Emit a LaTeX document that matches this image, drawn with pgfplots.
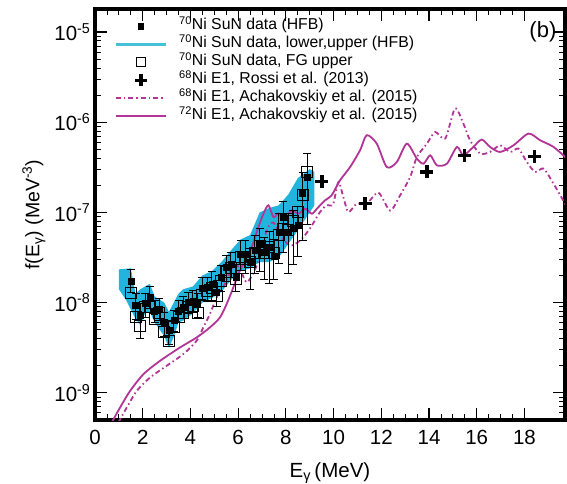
\documentclass[border=0pt]{standalone}
\usepackage{pgfplots}
\usepackage{pgfplotstable}
\pgfplotsset{compat=1.18}
\usepackage{fontspec}
\setmainfont{Liberation Sans}
\definecolor{nimag}{RGB}{178,52,150}
\definecolor{band}{RGB}{35,180,222}
\definecolor{bandline}{RGB}{70,192,214}

% 70Ni SuN data (HFB): E, f, error plus, error minus
\pgfplotstableread{
E f ep em
1.50 1.74e-8 6.09e-9 4.35e-9
1.70 9.33e-9 3.27e-9 2.80e-9
1.90 7.24e-9 2.53e-9 3.26e-9
2.10 9.77e-9 2.93e-9 2.93e-9
2.30 1.15e-8 3.45e-9 2.88e-9
2.50 8.13e-9 2.44e-9 2.03e-9
2.70 8.51e-9 2.55e-9 2.13e-9
2.90 6.03e-9 1.81e-9 1.81e-9
3.10 4.90e-9 1.47e-9 1.47e-9
3.30 6.31e-9 1.89e-9 1.58e-9
3.50 8.13e-9 2.44e-9 2.03e-9
3.70 8.91e-9 2.67e-9 2.23e-9
3.90 1.00e-8 3.00e-9 2.50e-9
4.10 1.05e-8 3.15e-9 2.63e-9
4.30 9.77e-9 2.93e-9 2.93e-9
4.50 1.45e-8 4.35e-9 3.63e-9
4.70 1.48e-8 4.44e-9 4.44e-9
4.90 1.62e-8 5.67e-9 5.67e-9
5.10 1.29e-8 4.52e-9 3.87e-9
5.30 1.91e-8 6.69e-9 5.73e-9
5.50 2.46e-8 8.61e-9 7.38e-9
5.70 2.69e-8 9.42e-9 8.07e-9
5.90 1.91e-8 7.64e-9 5.73e-9
6.10 3.47e-8 1.39e-8 1.21e-8
6.30 3.47e-8 1.39e-8 1.39e-8
6.50 2.82e-8 1.13e-8 1.41e-8
6.70 3.80e-8 1.71e-8 1.71e-8
6.90 4.47e-8 2.24e-8 2.24e-8
7.10 3.63e-8 1.63e-8 1.82e-8
7.30 4.07e-8 2.04e-8 2.44e-8
7.50 3.31e-8 1.66e-8 1.49e-8
7.70 6.03e-8 3.62e-8 3.32e-8
7.90 8.91e-8 4.46e-8 5.35e-8
8.10 6.03e-8 3.62e-8 3.92e-8
8.30 6.61e-8 3.97e-8 3.97e-8
8.50 7.24e-8 4.34e-8 3.98e-8
8.70 1.62e-7 1.13e-7 1.13e-7
8.90 2.45e-7 2.08e-7 1.72e-7
}\hfbdata

% 70Ni SuN data, FG upper
\pgfplotstableread{
E f
1.50 1.29e-8
1.70 6.92e-9
1.90 5.50e-9
2.10 8.91e-9
2.30 8.91e-9
2.50 6.61e-9
2.70 7.59e-9
2.90 4.68e-9
3.10 3.80e-9
3.30 5.37e-9
3.50 6.92e-9
3.70 7.59e-9
3.90 8.91e-9
4.10 9.12e-9
4.30 7.76e-9
4.50 1.23e-8
4.70 1.35e-8
4.90 1.45e-8
5.10 1.20e-8
5.30 1.74e-8
5.50 2.19e-8
5.70 2.40e-8
5.90 1.82e-8
6.10 3.24e-8
6.30 3.02e-8
6.50 2.82e-8
6.70 3.55e-8
6.90 4.27e-8
7.10 3.55e-8
7.30 4.17e-8
7.50 3.55e-8
7.70 5.62e-8
7.90 6.61e-8
8.10 6.31e-8
8.30 7.94e-8
8.50 1.00e-7
8.70 1.58e-7
8.90 2.82e-7
}\fgdata

% HFB lower/upper band: upper edge forward, then lower edge backward
\pgfplotstableread{
E f
1.0 2.34e-8
1.5 2.40e-8
1.7 1.26e-8
1.9 1.41e-8
2.3 1.62e-8
2.5 1.17e-8
2.9 1.00e-8
3.1 7.94e-9
3.3 1.00e-8
3.5 1.26e-8
3.7 1.41e-8
4.1 1.51e-8
4.5 2.00e-8
4.9 2.24e-8
5.3 2.82e-8
5.7 3.80e-8
6.1 5.01e-8
6.5 5.62e-8
6.9 1.00e-7
7.3 1.12e-7
7.7 1.20e-7
8.1 1.58e-7
8.5 2.40e-7
9.0 3.02e-7
9.2 2.82e-7
9.2 1.20e-7
9.0 1.00e-7
8.5 6.31e-8
8.1 4.47e-8
7.7 3.16e-8
7.3 2.82e-8
6.9 2.82e-8
6.5 2.40e-8
6.1 2.24e-8
5.7 1.78e-8
5.3 1.32e-8
4.9 1.12e-8
4.5 1.00e-8
4.1 7.59e-9
3.7 6.31e-9
3.5 6.03e-9
3.3 4.17e-9
3.1 3.16e-9
2.9 4.27e-9
2.5 6.03e-9
2.3 7.94e-9
2.1 7.59e-9
1.9 5.62e-9
1.7 6.61e-9
1.3 1.07e-8
1.0 1.41e-8
}\band

% 68Ni E1, Rossi et al. (2013)
\pgfplotstableread{
E f
9.51 2.21e-7
11.32 1.25e-7
13.91 2.81e-7
15.48 4.30e-7
18.42 4.19e-7
}\rossi

% 72Ni E1, Achakovskiy et al. (2015)
\pgfplotstableread{
E f
0.70 4.68e-10
1.05 6.87e-10
1.47 1.05e-9
2.03 1.61e-9
2.73 2.27e-9
3.56 3.18e-9
4.26 4.11e-9
4.82 5.32e-9
5.24 6.87e-9
5.52 9.68e-9
5.80 1.48e-8
6.01 2.08e-8
6.29 2.93e-8
6.57 4.11e-8
6.85 6.87e-8
7.06 9.68e-8
7.27 1.20e-7
7.48 8.87e-8
7.69 9.75e-8
7.90 8.57e-8
8.25 1.05e-7
8.52 9.68e-8
8.81 1.10e-7
9.09 9.68e-8
9.30 1.10e-7
9.64 1.36e-7
9.92 1.55e-7
10.27 2.27e-7
10.69 3.18e-7
11.11 4.89e-7
11.39 7.18e-7
11.81 5.79e-7
12.23 3.18e-7
12.65 3.62e-7
13.07 5.79e-7
13.49 3.95e-7
13.77 3.47e-7
14.05 4.30e-7
14.33 3.33e-7
14.75 3.47e-7
15.17 5.32e-7
15.44 4.30e-7
15.86 5.32e-7
16.21 6.43e-7
16.56 5.32e-7
16.98 4.68e-7
17.54 5.55e-7
18.17 7.48e-7
18.66 6.31e-7
19.22 5.32e-7
19.78 3.95e-7
}\achaseven

% 68Ni E1, Achakovskiy et al. (2015)
\pgfplotstableread{
E f
0.98 4.68e-10
1.33 6.87e-10
1.75 1.05e-9
2.31 1.48e-9
3.01 2.00e-9
3.70 2.69e-9
4.26 3.78e-9
4.54 5.32e-9
4.82 7.48e-9
5.10 1.15e-8
5.38 1.48e-8
5.80 2.58e-8
6.08 2.39e-8
6.36 1.68e-8
6.78 2.58e-8
7.20 6.31e-8
7.48 7.74e-8
7.76 5.55e-8
8.18 4.30e-8
8.60 4.89e-8
9.01 6.64e-8
9.43 1.01e-7
9.71 1.20e-7
9.98 1.23e-7
10.20 2.17e-7
10.41 1.48e-7
10.62 1.01e-7
10.97 1.25e-7
11.39 1.25e-7
11.88 1.66e-7
12.37 1.05e-7
12.79 1.55e-7
13.21 2.47e-7
13.49 4.11e-7
13.91 5.79e-7
14.26 7.80e-7
14.68 6.59e-7
15.09 1.42e-6
15.44 9.68e-7
15.72 6.31e-7
16.14 4.49e-7
16.56 4.68e-7
16.98 5.55e-7
17.40 4.68e-7
17.75 5.10e-7
18.10 3.62e-7
18.45 2.81e-7
18.80 3.06e-7
19.22 2.08e-7
19.78 1.15e-7
}\achasix

\begin{document}
\begin{tikzpicture}
\path[use as bounding box] (-95pt,-64pt) rectangle (472pt,420pt);
\begin{axis}[
  scale only axis, width=470pt, height=411pt,
  at={(0pt,0pt)}, anchor=south west,
  ymode=log,
  xmin=0, xmax=19.7, ymin=5e-10, ymax=1.8e-5,
  axis line style={line width=3.2pt},
  tick align=inside,
  major tick length=12pt, minor tick length=6pt,
  major tick style={line width=1.1pt, black},
  minor tick style={line width=0.8pt, black},
  xtick={0,2,...,18},
  xticklabels={0,2,4,6,8,10,12,14,16,18},
  minor x tick num=3,
  ytick={1e-9,1e-8,1e-7,1e-6,1e-5},
  yticklabels={10\textsuperscript{-9},10\textsuperscript{-8},10\textsuperscript{-7},10\textsuperscript{-6},10\textsuperscript{-5}},
  minor ytick={6e-10,7e-10,8e-10,9e-10,2e-9,3e-9,4e-9,5e-9,6e-9,7e-9,8e-9,9e-9,2e-8,3e-8,4e-8,5e-8,6e-8,7e-8,8e-8,9e-8,2e-7,3e-7,4e-7,5e-7,6e-7,7e-7,8e-7,9e-7,2e-6,3e-6,4e-6,5e-6,6e-6,7e-6,8e-6,9e-6},
  xticklabel style={font=\fontsize{20.5}{22}\selectfont, yshift=-7pt},
  yticklabel style={font=\fontsize{20.5}{22}\selectfont, xshift=-1pt},
  xlabel={E\textsubscript{γ}\,(MeV)},
  xlabel style={font=\fontsize{20.5}{22}\selectfont, at={(axis description cs:0.5,-0.1387)}, anchor=base},
  ylabel={f(E\textsubscript{γ}) (MeV\textsuperscript{-3})},
  ylabel style={font=\fontsize{19.5}{21}\selectfont, at={(axis description cs:-0.13,0.5)}, anchor=center},
  legend style={at={(0.035,0.985)}, anchor=north west, draw=none, fill=none,
    font=\fontsize{15.8}{18}\selectfont, row sep=0pt,
    nodes={inner sep=1pt, text height=11.5pt, text depth=4.5pt},
    /tikz/every odd column/.append style={column sep=11pt}},
  legend cell align=left,
]
% band
\addplot[fill=band, draw=none, forget plot] table[x=E, y=f] {\band};
% theory curves
\addplot[nimag, line width=1.8pt, smooth, tension=0.45, forget plot] table[x=E, y=f] {\achaseven};
\addplot[nimag, line width=1.8pt, smooth, tension=0.45, dash pattern=on 5pt off 3pt on 1.5pt off 3pt, forget plot] table[x=E, y=f] {\achasix};
% FG upper
\addplot[only marks, mark=square, mark size=5.5pt, mark options={black, line width=1pt}, forget plot] table[x=E, y=f] {\fgdata};
% HFB data with errors
\addplot[only marks, mark=square*, mark size=3pt, black, forget plot,
  error bars/.cd, y dir=both, y explicit,
  error bar style={line width=1pt, black},
  error mark options={rotate=90, mark size=4pt, line width=1pt, black}]
  table[x=E, y=f, y error plus=ep, y error minus=em] {\hfbdata};
% Rossi
\addplot[only marks, mark=+, mark size=6.5pt, mark options={line width=3.5pt, black}, forget plot] table[x=E, y=f] {\rossi};

\addlegendimage{legend image code/.code={\fill[black] (22pt,-2.8pt) rectangle (27.6pt,2.8pt);}}
\addlegendentry{\textsuperscript{70}Ni SuN data (HFB)}
\addlegendimage{legend image code/.code={\draw[bandline, line width=2.5pt] (0pt,0pt) -- (50pt,0pt);}}
\addlegendentry{\textsuperscript{70}Ni SuN data, lower,upper (HFB)}
\addlegendimage{legend image code/.code={\draw[black, line width=1pt] (20.5pt,-4.5pt) rectangle (29.5pt,4.5pt);}}
\addlegendentry{\textsuperscript{70}Ni SuN data, FG upper}
\addlegendimage{legend image code/.code={\draw[black, line width=3.5pt] (25pt,-6pt) -- (25pt,6pt) (19pt,0pt) -- (31pt,0pt);}}
\addlegendentry{\textsuperscript{68}Ni E1, Rossi et al. (2013)}
\addlegendimage{legend image code/.code={\draw[nimag, line width=1.8pt, dash pattern=on 5pt off 3pt on 1.5pt off 3pt] (0pt,0pt) -- (50pt,0pt);}}
\addlegendentry{\textsuperscript{68}Ni E1, Achakovskiy et al. (2015)}
\addlegendimage{legend image code/.code={\draw[nimag, line width=1.8pt] (0pt,0pt) -- (50pt,0pt);}}
\addlegendentry{\textsuperscript{72}Ni E1, Achakovskiy et al. (2015)}

\node[font=\fontsize{22}{24}\selectfont] at (rel axis cs:0.953,0.945) {(b)};
\end{axis}
\end{tikzpicture}
\end{document}
